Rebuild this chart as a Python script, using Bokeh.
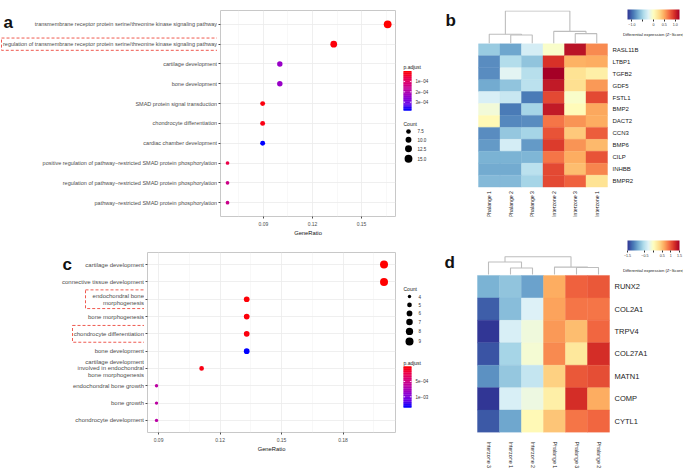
import math
from bokeh.plotting import figure
from bokeh.layouts import row, column
from bokeh.models import (ColumnDataSource, FactorRange, Range1d, FixedTicker, PrintfTickFormatter,
                          LinearColorMapper, ColorBar, CustomJSTickFormatter)
from bokeh.transform import transform
from bokeh.embed import file_html
from bokeh.resources import INLINE
from bokeh.core.properties import value

FONT = "Liberation Sans"
FV = value(FONT)

# ---------------- data: panel a ----------------
terms_a = [
    "transmembrane receptor protein serine/threonine kinase signaling pathway",
    "regulation of transmembrane receptor protein serine/threonine kinase signaling pathway",
    "cartilage development",
    "bone development",
    "SMAD protein signal transduction",
    "chondrocyte differentiation",
    "cardiac chamber development",
    "positive regulation of pathway\u2212restricted SMAD protein phosphorylation",
    "regulation of pathway\u2212restricted SMAD protein phosphorylation",
    "pathway\u2212restricted SMAD protein phosphorylation",
]
ratio_a = [0.166, 0.133, 0.100, 0.100, 0.0895, 0.0895, 0.0895, 0.068, 0.068, 0.068]
count_a = [15, 12, 9, 9, 8, 8, 8, 6, 6, 6]
padj_a = [2e-6, 1.2e-5, 2.4e-4, 2.4e-4, 1.5e-5, 2.0e-5, 3.8e-4, 6.5e-5, 1.45e-4, 1.5e-4]
highlight_a = ["regulation of transmembrane receptor protein serine/threonine kinase signaling pathway"]
xticks_a = [0.09, 0.12, 0.15]
count_breaks_a = [7.5, 10.0, 12.5, 15.0]
count_labels_a = ["7.5", "10.0", "12.5", "15.0"]
padj_ticks_a = [1e-4, 2e-4, 3e-4]
padj_labels_a = ["1e\u221204", "2e\u221204", "3e\u221204"]

# ---------------- data: panel c ----------------
terms_c = [
    "cartilage development",
    "connective tissue development",
    "endochondral bone\nmorphogenesis",
    "bone morphogenesis",
    "chondrocyte differentiation",
    "bone development",
    "cartilage development\ninvolved in endochondral\nbone morphogenesis",
    "endochondral bone growth",
    "bone growth",
    "chondrocyte development",
]
ratio_c = [0.200, 0.200, 0.133, 0.133, 0.133, 0.133, 0.111, 0.089, 0.089, 0.089]
count_c = [9, 9, 6, 6, 6, 6, 5, 4, 4, 4]
padj_c = [1e-5, 2e-5, 4e-5, 5e-5, 6e-5, 1.35e-3, 8e-5, 6.5e-4, 6.5e-4, 6.6e-4]
highlight_c = ["endochondral bone\nmorphogenesis", "chondrocyte differentiation"]
xticks_c = [0.09, 0.12, 0.15, 0.18]
count_breaks_c = [4, 5, 6, 7, 8, 9]
count_labels_c = ["4", "5", "6", "7", "8", "9"]
padj_ticks_c = [5e-4, 1e-3]
padj_labels_c = ["5e\u221204", "1e\u221203"]

# ---------------- data: panel b heatmap ----------------
genes_b = ["RASL11B", "LTBP1", "TGFB2", "GDF5", "FSTL1", "BMP2", "DACT2", "CCN3", "BMP6", "CILP", "INHBB", "BMPR2"]
samples_b = ["Phalange 1", "Phalange 2", "Phalange 3", "Interzone 2", "Interzone 3", "Interzone 1"]
z_b = [
    [-0.55, -0.75, -0.30, -0.05, 1.10, 0.60],
    [-0.85, -0.45, -0.60, 0.95, 0.45, 0.48],
    [-0.85, -0.22, -0.42, 1.20, 0.22, 0.12],
    [-0.72, -0.60, -0.40, 1.05, 0.24, 0.55],
    [-0.28, -0.35, -0.93, 0.85, -0.05, 0.85],
    [-0.10, -0.93, -0.50, 1.05, 0.03, 0.50],
    [0.05, -0.88, -0.86, 0.68, 0.58, 0.47],
    [-0.85, -0.58, -0.50, 0.82, 0.35, 0.78],
    [-0.80, -0.30, -0.80, 0.90, 0.58, 0.43],
    [-0.68, -0.68, -0.67, 0.68, 0.47, 0.82],
    [-0.72, -0.72, -0.40, 0.85, 0.40, 0.62],
    [-0.65, -0.65, -0.50, 0.85, 0.75, 0.22],
]
# dendrogram merges on leaf positions: (left id, right id, relative height)
merges_b = [(1, 2, 0.26), (0, 6, 0.28), (4, 5, 0.30), (3, 8, 0.37), (7, 9, 1.0)]
cb_ticks_b = [-1.0, -0.5, 0.0, 0.5, 1.0]
cb_labels_b = ["\u22121.0", "\u22120.5", "0", "0.5", "1.0"]

# ---------------- data: panel d heatmap ----------------
genes_d = ["RUNX2", "COL2A1", "TRPV4", "COL27A1", "MATN1", "COMP", "CYTL1"]
samples_d = ["Interzone 3", "Interzone 1", "Interzone 2", "Phalange 1", "Phalange 3", "Phalange 2"]
z_d = [
    [-0.85, -0.75, -0.95, 0.60, 0.95, 1.00],
    [-1.30, -0.78, -0.32, 0.65, 0.85, 0.85],
    [-1.50, -0.33, -0.15, 0.68, 0.50, 0.92],
    [-1.35, -0.63, -0.10, 0.75, 0.22, 1.20],
    [-1.05, -0.72, -0.45, 0.38, 1.00, 1.05],
    [-1.48, -0.33, -0.18, 0.15, 1.20, 0.60],
    [-1.33, -0.93, 0.05, 0.45, 0.85, 0.93],
]
merges_d = [(1, 2, 0.37), (0, 6, 0.71), (4, 5, 0.40), (3, 8, 0.42), (7, 9, 1.0)]
cb_ticks_d = [-1.5, -0.5, 0.0, 0.5, 1.0, 1.5]
cb_labels_d = ["\u22121.5", "\u22120.5", "0", "0.5", "1", "1.5"]


# ---------------- helpers ----------------
def hex2rgb(h):
    h = h.lstrip("#")
    return [int(h[i:i + 2], 16) for i in (0, 2, 4)]


def interp_palette(anchors, n):
    rgbs = [hex2rgb(a) for a in anchors]
    out = []
    for k in range(n):
        t = k / (n - 1) * (len(rgbs) - 1)
        i = min(int(t), len(rgbs) - 2)
        f = t - i
        c = [round(rgbs[i][m] + (rgbs[i + 1][m] - rgbs[i][m]) * f) for m in range(3)]
        out.append("#%02x%02x%02x" % tuple(c))
    return out


padj_palette = interp_palette(["#0000FF", "#6A00E6", "#8F00D0", "#B800A6", "#D5007A", "#EC0048", "#FF0000"], 128)
heat_palette = interp_palette(["#313695", "#4575b4", "#74add1", "#abd9e9", "#e0f3f8", "#ffffbf",
                               "#fee090", "#fdae61", "#f46d43", "#d73027", "#a50026"], 128)


def area_size(c, cmin, cmax, dmin, dmax):
    return math.sqrt(dmin ** 2 + (c - cmin) / (cmax - cmin) * (dmax ** 2 - dmin ** 2))


def base_fig(width, height, L, R, T, B, **kw):
    p = figure(width=width, height=height, output_backend="svg", toolbar_location=None,
               min_border_left=L, min_border_right=R, min_border_top=T, min_border_bottom=B, **kw)
    p.background_fill_color = "white"
    p.border_fill_color = "white"
    return p


def plain(p):
    p.grid.visible = False
    p.outline_line_color = None


def letter(p, text, x, y):
    p.text(x=[x], y=[y], text=[text], text_font=FV, text_font_size="17px", text_font_style="bold",
           text_baseline="top", text_align="left", text_color="#111111")


def label_panel(terms, yr, width, height, T, B, label_fs, boxes):
    # term labels on the shared categorical y range; x is in page pixels
    p = base_fig(width, height, 0, 0, T, B, x_range=Range1d(0, width), y_range=yr,
                 x_axis_location=None, y_axis_location=None)
    plain(p)
    p.text(x=[width - 0.5] * len(terms), y=terms, text=terms, text_font=FV, text_font_size=label_fs,
           text_align="right", text_baseline="middle", text_color="#4d4d4d", text_line_height=1.15)
    for term, x_left, h in boxes:
        p.rect(x=[(x_left + width + 1.5) / 2], y=[term], width=[width + 1.5 - x_left], height=[h],
               fill_alpha=0, line_color="#ef5a50", line_dash="3 2", line_width=1)
    return p


def dot_panel(terms, ratio, count, padj, xticks, xr, yr, width, height, T, B, dmin, dmax, mapper):
    p = base_fig(width, height, 3, 3, T, B, x_range=Range1d(*xr), y_range=yr)
    p.outline_line_color = "#c8c8c8"
    p.outline_line_width = 1
    sizes = [area_size(c, min(count), max(count), dmin, dmax) for c in count]
    src = ColumnDataSource(dict(t=terms, r=ratio, c=count, p=padj, s=sizes))
    p.scatter("r", "t", size="s", source=src, fill_color=transform("p", mapper), line_color=None)
    step = xticks[1] - xticks[0]
    minor = [xticks[0] - step / 2] + [x + step / 2 for x in xticks]
    p.xaxis.ticker = FixedTicker(ticks=xticks, minor_ticks=minor)
    p.xgrid.ticker = FixedTicker(ticks=xticks, minor_ticks=minor)
    p.xaxis.formatter = PrintfTickFormatter(format="%.2f")
    p.xgrid.grid_line_color = "#ebebeb"
    p.xgrid.grid_line_width = 0.8
    p.xgrid.minor_grid_line_color = "#f3f3f3"
    p.xgrid.minor_grid_line_width = 0.6
    p.ygrid.grid_line_color = "#ebebeb"
    p.ygrid.grid_line_width = 0.8
    for ax in (p.xaxis[0], p.yaxis[0]):
        ax.axis_line_color = None
        ax.major_tick_line_color = "#4d4d4d"
        ax.major_tick_out = 2
        ax.major_tick_in = 0
        ax.minor_tick_line_color = None
        ax.major_label_text_font = FONT
        ax.major_label_text_color = "#4d4d4d"
        ax.major_label_standoff = 1
    p.yaxis.major_label_text_font_size = "1px"
    p.yaxis.major_label_text_color = None
    p.yaxis.major_label_standoff = 0
    p.xaxis.major_label_text_font_size = "5px"
    p.xaxis.axis_label = "GeneRatio"
    p.xaxis.axis_label_text_font = FONT
    p.xaxis.axis_label_text_font_size = "5.8px"
    p.xaxis.axis_label_text_font_style = "normal"
    p.xaxis.axis_label_text_color = "#111111"
    p.xaxis.axis_label_standoff = 1
    return p


def legend_panel(x0, y0, width, height, T, B, mapper, padj, padj_ticks, padj_labels, bar_x, bar_top, bar_h,
                 count_breaks, count_labels, cmin, cmax, dmin, dmax, count_x, count_y0, key_min):
    # ranges chosen so that data coordinates equal page pixel coordinates
    p = base_fig(width, height, 0, 0, T, B, x_range=Range1d(x0, x0 + width),
                 y_range=Range1d(y0 + height - B, y0 + T), x_axis_location=None, y_axis_location=None)
    plain(p)
    vmin, vmax = min(padj), max(padj)
    n = 60
    vals = [vmin + (vmax - vmin) * (k + 0.5) / n for k in range(n)]
    ys = [bar_top + (v - vmin) / (vmax - vmin) * bar_h for v in vals]
    src = ColumnDataSource(dict(x=[bar_x + 4] * n, y=ys, v=vals))
    p.rect("x", "y", width=8, height=bar_h / n + 0.4, source=src,
           fill_color=transform("v", mapper), line_color=None)
    ty = [bar_top + (t - vmin) / (vmax - vmin) * bar_h for t in padj_ticks]
    p.segment(x0=[bar_x] * len(ty), x1=[bar_x + 1.6] * len(ty), y0=ty, y1=ty, line_color="white", line_width=0.8)
    p.segment(x0=[bar_x + 6.4] * len(ty), x1=[bar_x + 8] * len(ty), y0=ty, y1=ty, line_color="white", line_width=0.8)
    p.text(x=[bar_x + 12] * len(ty), y=ty, text=padj_labels, text_font_size="4.5px",
           text_baseline="middle", text_color="#333333", text_font=FV)
    p.text(x=[bar_x], y=[bar_top - 4], text=["p.adjust"], text_font_size="5px",
           text_baseline="middle", text_color="#222222", text_font=FV)
    sizes = [area_size(c, cmin, cmax, dmin, dmax) for c in count_breaks]
    keys = [max(key_min, s + 2.8) for s in sizes]
    cy = [count_y0]
    for i in range(1, len(sizes)):
        cy.append(cy[-1] + (keys[i - 1] + keys[i]) / 2)
    p.scatter(x=[count_x] * len(sizes), y=cy, size=sizes, fill_color="black", line_color=None)
    p.text(x=[count_x + 9] * len(sizes), y=cy, text=count_labels, text_font_size="4.5px",
           text_baseline="middle", text_color="#333333", text_font=FV)
    p.text(x=[bar_x], y=[count_y0 - 8], text=["Count"], text_font_size="5px",
           text_baseline="middle", text_color="#222222", text_font=FV)
    return p


def dendro_lines(merges, n_leaves, base, span):
    pos = {i: float(i) for i in range(n_leaves)}
    hgt = {i: 0.0 for i in range(n_leaves)}
    xs, ys = [], []
    nid = n_leaves
    for a, b, h in merges:
        ya, yb, yh = base + hgt[a] * span, base + hgt[b] * span, base + h * span
        xs.append([pos[a], pos[a], pos[b], pos[b]])
        ys.append([ya, yh, yh, yb])
        pos[nid] = (pos[a] + pos[b]) / 2
        hgt[nid] = h
        nid += 1
    return xs, ys


def heat_panel(genes, samples, z, merges, mapper, x0, width, height, T, B, cells, dendro_top,
               gene_fs, sample_fs, sample_on_axis, cb_ticks, cb_labels, cb_bar, title_y):
    """cells = (left, right, top, bottom): x in page px, y in px from the figure top."""
    cl, cr, ct, cbm = cells
    nr, nc = len(genes), len(samples)
    colpx = (cr - cl) / nc
    rowpx = (cbm - ct) / nr
    frame_top, frame_bottom = T, height - B
    xr0 = -0.5 - (cl - x0) / colpx
    xr1 = -0.5 + (x0 + width - cl) / colpx
    yr0 = -0.5 - (frame_bottom - cbm) / rowpx
    yr1 = nr - 0.5 + (ct - frame_top) / rowpx
    px = lambda X: -0.5 + (X - cl) / colpx
    py = lambda Y: nr - 0.5 + (ct - Y) / rowpx
    p = base_fig(width, height, 0, 0, T, B, x_range=Range1d(xr0, xr1), y_range=Range1d(yr0, yr1),
                 y_axis_location=None, x_axis_location=("below" if sample_on_axis else None))
    plain(p)
    xs, ys, zs = [], [], []
    for i in range(nr):
        for j in range(nc):
            xs.append(j)
            ys.append(nr - 1 - i)
            zs.append(z[i][j])
    src = ColumnDataSource(dict(x=xs, y=ys, z=zs))
    p.rect("x", "y", 1, 1, source=src, fill_color=transform("z", mapper),
           line_color=transform("z", mapper), line_width=0.4)
    dbase = nr - 0.5 + 0.04
    dx, dy = dendro_lines(merges, nc, dbase, py(dendro_top) - dbase)
    p.multi_line(dx, dy, line_color="#bdbdbd", line_width=1.1)
    p.text(x=[nc - 0.5 + 5.0 / colpx] * nr, y=[nr - 1 - i for i in range(nr)], text=genes,
           text_font=FV, text_font_size=gene_fs, text_align="left", text_baseline="middle",
           text_color="#222222")
    if sample_on_axis:
        ax = p.xaxis[0]
        ax.ticker = FixedTicker(ticks=list(range(nc)))
        ax.major_label_overrides = {j: s for j, s in enumerate(samples)}
        ax.major_label_orientation = "vertical"
        ax.axis_line_color = None
        ax.major_tick_line_color = None
        ax.minor_tick_line_color = None
        ax.major_label_text_font = FONT
        ax.major_label_text_font_size = sample_fs
        ax.major_label_text_color = "#222222"
        ax.major_label_standoff = 3
    else:
        p.text(x=list(range(nc)), y=[-0.5 - 4.0 / rowpx] * nc, text=samples, angle=math.pi / 2,
               text_font=FV, text_font_size=sample_fs, text_align="right", text_baseline="middle",
               text_color="#222222")
    bl, bt, bw = cb_bar
    cb = ColorBar(color_mapper=mapper, orientation="horizontal", width=bw, height=10,
                  location=(bl - x0, frame_bottom - (bt + 17)),
                  ticker=FixedTicker(ticks=cb_ticks),
                  formatter=CustomJSTickFormatter(args=dict(labels=cb_labels), code="return labels[index]"),
                  major_label_text_font=FONT, major_label_text_font_size="3.6px",
                  major_label_text_color="#333333",
                  major_tick_line_color="#333333", major_tick_in=0, major_tick_out=2,
                  title=None, padding=0, margin=0, label_standoff=1,
                  bar_line_color=None, border_line_color=None, background_fill_alpha=0)
    p.add_layout(cb, "center")
    p.text(x=[px(bl + bw / 2)], y=[py(title_y)], text=["Differential expression (Z\u2212Score)"],
           text_font=FV, text_font_size="4.2px", text_align="center", text_baseline="top",
           text_color="#222222")
    return p


# ---------------- mappers ----------------
map_a = LinearColorMapper(palette=padj_palette, low=max(padj_a), high=min(padj_a))
map_c = LinearColorMapper(palette=padj_palette, low=max(padj_c), high=min(padj_c))
map_b = LinearColorMapper(palette=heat_palette, low=-1.2, high=1.2)
map_d = LinearColorMapper(palette=heat_palette, low=-1.5, high=1.5)

# ---------------- top row: page y 0..238, all frames 10..220 ----------------
TOP_H, T1, B1 = 238, 10, 18
yr_a = FactorRange(factors=terms_a[::-1], range_padding=0.2, range_padding_units="absolute")
pa_lab = label_panel(terms_a, yr_a, 217, TOP_H, T1, B1, "5.5px", [(highlight_a[0], 1.0, 0.62)])
letter(pa_lab, "a", 3, 10.06)
pa = dot_panel(terms_a, ratio_a, count_a, padj_a, xticks_a, (0.0637, 0.1708), yr_a, 181, TOP_H, T1, B1,
               3.7, 7.8, map_a)
la = legend_panel(398, 0, 60, TOP_H, T1, B1, map_a, padj_a, padj_ticks_a, padj_labels_a, 403, 72, 40,
                  count_breaks_a, count_labels_a, min(count_a), max(count_a), 3.7, 7.8, 408, 133.3, 8.3)
letter(la, "b", 445, 11)
pb = heat_panel(genes_b, samples_b, z_b, merges_b, map_b, 458, 225, TOP_H, T1, B1, (478, 607, 44, 190), 10.5,
                "6px", "5.2px", False, cb_ticks_b, cb_labels_b, (627, 15, 52), 32)

# ---------------- bottom row: page y 238..471, all frames 252..440 ----------------
BOT_H, T2, B2 = 233, 14, 31
yr_c = FactorRange(factors=terms_c[::-1], range_padding=0.2, range_padding_units="absolute")
pc_lab = label_panel(terms_c, yr_c, 144, BOT_H, T2, B2, "6px",
                     [(highlight_c[0], 85.0, 1.08), (highlight_c[1], 72.0, 0.97)])
letter(pc_lab, "c", 62, 10.05)
pc = dot_panel(terms_c, ratio_c, count_c, padj_c, xticks_c, (0.0846, 0.2056), yr_c, 254, BOT_H, T2, B2,
               3.4, 8.0, map_c)
lc = legend_panel(398, 238, 60, BOT_H, T2, B2, map_c, padj_c, padj_ticks_c, padj_labels_c, 403, 371, 43,
                  count_breaks_c, count_labels_c, min(count_c), max(count_c), 3.4, 8.0, 409, 298, 8.8)
letter(lc, "d", 444, 253)
pd_ = heat_panel(genes_d, samples_d, z_d, merges_d, map_d, 458, 225, BOT_H, T2, B2, (477, 609, 38, 202), 18.5,
                 "7.5px", "5.3px", True, cb_ticks_d, cb_labels_d, (627, 12, 52), 30)

layout = column(row(pa_lab, pa, la, pb, spacing=0), row(pc_lab, pc, lc, pd_, spacing=0), spacing=0)

open("out.html", "w").write(file_html(layout, INLINE))
